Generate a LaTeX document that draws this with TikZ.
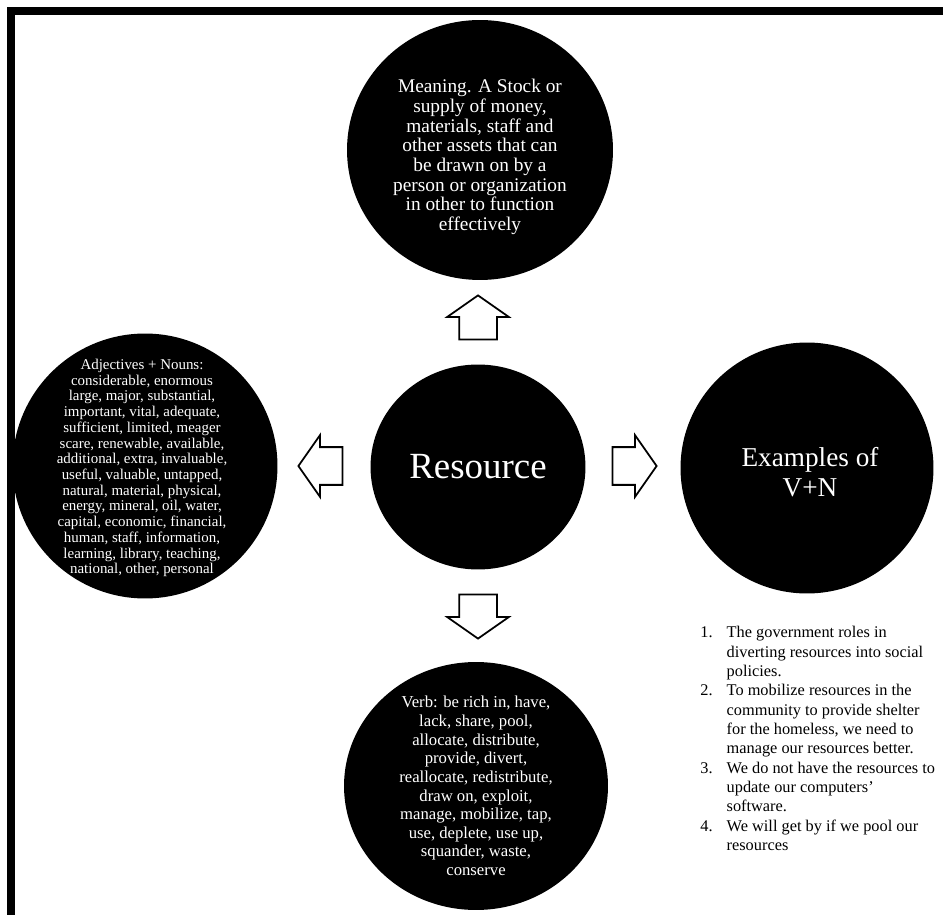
\documentclass[tikz,border=0pt]{standalone}
\usepackage{fontspec}
\setmainfont{Liberation Serif}
\usetikzlibrary{shapes.geometric,shapes.arrows}

\tikzset{
  bubble/.style={ellipse, fill=black, inner sep=0pt},
  bubbletext/.style={text=white, align=center, inner sep=0pt},
  blockarrow/.style={single arrow, draw=black, line width=1pt, fill=white,
    minimum height=0.88cm, inner xsep=0pt, inner ysep=0.36cm,
    single arrow head extend=0.24cm, single arrow tip angle=110}
}

\begin{document}
\begin{tikzpicture}[x=0.02cm,y=-0.02cm]

\useasboundingbox (0,0) rectangle (943,915);

% Frame
\draw[line width=4.5pt] (11,915) -- (11,11) -- (943,11);

% Centre
\node[bubble, minimum width=4.3cm, minimum height=4.1cm] (res) at (478,467) {};
\node[bubbletext, font=\fontsize{21}{24}\selectfont] (restext) at (res) {Resource};

% Meaning
\node[bubble, minimum width=5.32cm, minimum height=5.2cm] (meaning) at (480,150) {};
\node[bubbletext, font=\fontsize{11}{11.2}\selectfont] (meaningtext) at (480,157)
{Meaning. A Stock or\\ supply of money,\\ materials, staff and\\
other assets that can\\ be drawn on by a\\ person or organization\\
in other to function\\ effectively};

% Adjectives
\node[bubble, minimum width=5.3cm, minimum height=5.3cm] (adj) at (145,466) {};
\node[bubbletext, font=\fontsize{8.5}{8.95}\selectfont] (adjtext) at (142,468)
{Adjectives + Nouns:\\ considerable, enormous\\ large, major, substantial,\\
important, vital, adequate,\\ sufficient, limited, meager\\
scare, renewable, available,\\ additional, extra, invaluable,\\
useful, valuable, untapped,\\ natural, material, physical,\\
energy, mineral, oil, water,\\ capital, economic, financial,\\
human, staff, information,\\ learning, library, teaching,\\
national, other, personal};

% Examples
\node[bubble, minimum width=5.06cm, minimum height=5.02cm] (examples) at (807,468) {};
\node[bubbletext, font=\fontsize{15.5}{17}\selectfont] (examplestext) at (810,472)
{Examples of\\ V+N};

% Verbs
\node[bubble, minimum width=5.28cm, minimum height=4.96cm] (verb) at (476,786) {};
\node[bubbletext, font=\fontsize{9.5}{10.6}\selectfont] (verbtext) at (verb)
{Verb: be rich in, have,\\ lack, share, pool,\\ allocate, distribute,\\
provide, divert,\\ reallocate, redistribute,\\ draw on, exploit,\\
manage, mobilize, tap,\\ use, deplete, use up,\\ squander, waste,\\
conserve};

% Arrows
\foreach \name/\x/\y/\ang in {
up/478/324/90, down/478/610/270,
left/327/466/180, right/628/466/0
}
{
\node[blockarrow, rotate=\ang] (\name) at (\x,\y) {};
}

% List
\node[anchor=north west, inner sep=0pt, align=left,
  font=\fontsize{9.3}{11}\selectfont] (list) at (700,624)
{\begin{tabular}{@{}l@{\hspace{8pt}}l@{}}
1. & The government roles in\\
   & diverting resources into social\\
   & policies.\\
2. & To mobilize resources in the\\
   & community to provide shelter\\
   & for the homeless, we need to\\
   & manage our resources better.\\
3. & We do not have the resources to\\
   & update our computers'\\
   & software.\\
4. & We will get by if we pool our\\
   & resources
\end{tabular}};

\end{tikzpicture}
\end{document}
